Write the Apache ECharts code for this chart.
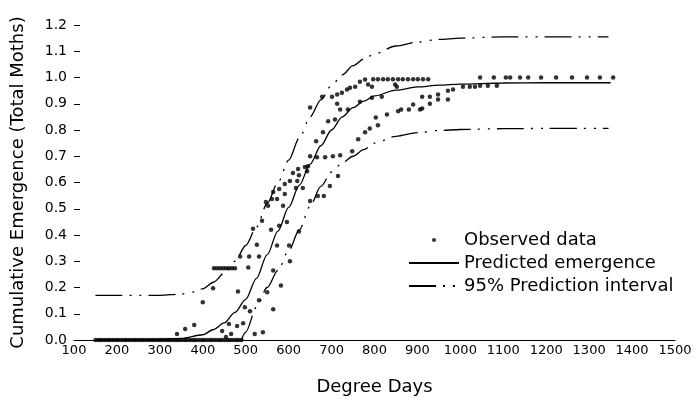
<!DOCTYPE html>
<html><head><meta charset="utf-8">
<script src="https://cdn.jsdelivr.net/npm/echarts@6/dist/echarts.min.js"></script>
<style>html,body{margin:0;padding:0;background:#fff}#c{width:696px;height:401px}</style>
</head><body><div id="c"></div>
<script>
// Observed emergence: degree days and cumulative proportion
const zeroDays = [150,157,163,170,177,183,190,197,203,210,217,223,230,237,243,250,257,263,270,277,283,290,297,303,310,317,323,330,337,343,350,357,363,370,377,383,390,397,403,410,417,423,430,437,443,450,457,463,470,477,483,490];
const observed = [
  [340,0.023],[359,0.042],[380,0.057],[400,0.144],[424,0.197],[445,0.034],[454,0.011],[461,0.061],[466,0.023],
  [480,0.053],[494,0.064],[482,0.185],[498,0.125],[510,0.11],[521,0.023],[540,0.03],[531,0.151],[550,0.182],
  [564,0.117],[582,0.208],[564,0.265],
  [426,0.273],[433,0.273],[440,0.273],[447,0.273],[454,0.273],[461,0.273],[468,0.273],[475,0.273],
  [487,0.318],[508,0.318],[531,0.318],[506,0.276],[526,0.363],[573,0.36],[601,0.36],[603,0.30],
  [517,0.424],[538,0.454],[559,0.42],[578,0.435],[596,0.45],[552,0.511],[547,0.526],[561,0.537],[573,0.537],
  [564,0.564],[578,0.575],[591,0.594],[603,0.606],[591,0.556],[587,0.511],[620,0.606],[610,0.636],[624,0.628],
  [617,0.579],[633,0.579],[638,0.659],[645,0.662],[643,0.643],[622,0.651],[650,0.70],[666,0.696],[685,0.696],
  [703,0.70],[720,0.704],[748,0.719],[624,0.413],[650,0.53],[668,0.549],[682,0.549],[696,0.587],[715,0.625],
  [664,0.757],[680,0.791],[692,0.833],[708,0.84],[650,0.886],[678,0.927],[701,0.927],[713,0.935],[724,0.942],
  [736,0.954],[743,0.961],[755,0.965],[766,0.984],[778,0.992],[785,0.973],[794,0.965],[713,0.90],[720,0.878],
  [738,0.878],[766,0.908],[794,0.923],[817,0.927],[852,0.965],[848,0.973],[762,0.765],[778,0.791],[789,0.806],
  [808,0.818],[803,0.848],[829,0.859],[855,0.871],[862,0.878],[880,0.878],[890,0.897],[906,0.878],[911,0.927],
  [929,0.927],[929,0.90],[911,0.882],[948,0.935],[948,0.916],[971,0.916],[971,0.95],[983,0.954],[1006,0.965],
  [1022,0.965],[1034,0.965],[1046,0.969],[1064,0.969],[1085,0.969],
  [797,0.993],[808,0.993],[820,0.993],[831,0.993],[843,0.993],[855,0.993],[866,0.993],[878,0.993],[890,0.993],
  [901,0.993],[913,0.993],[925,0.993],
  [1046,1.0],[1078,1.0],[1106,1.0],[1116,1.0],[1139,1.0],[1158,1.0],[1188,1.0],[1223,1.0],[1260,1.0],
  [1295,1.0],[1325,1.0],[1356,1.0]
];
// Predicted emergence curve
const predDays = [150,200,250,300,350,400,425,450,475,500,525,550,575,600,625,650,675,700,725,750,775,800,850,900,950,1000,1100,1200,1350];
const predValues = [0,0,0,0.002,0.006,0.02,0.04,0.065,0.105,0.155,0.235,0.325,0.415,0.505,0.59,0.67,0.74,0.80,0.85,0.885,0.91,0.93,0.952,0.964,0.971,0.975,0.979,0.98,0.98];
// 95% prediction interval
const upperDays = [150,200,250,300,350,375,400,425,450,475,500,525,550,575,600,625,650,675,700,725,750,775,800,850,900,950,1000,1100,1200,1345];
const upperValues = [0.17,0.17,0.17,0.17,0.175,0.182,0.195,0.22,0.255,0.30,0.36,0.43,0.52,0.60,0.685,0.77,0.85,0.915,0.97,1.01,1.045,1.07,1.09,1.12,1.135,1.145,1.15,1.155,1.155,1.155];
const lowerDays = [490,500,525,550,575,600,625,650,675,700,725,750,775,800,850,900,950,1000,1100,1200,1345];
const lowerValues = [0,0.03,0.125,0.2,0.265,0.34,0.42,0.51,0.585,0.64,0.675,0.70,0.725,0.75,0.776,0.79,0.798,0.802,0.805,0.806,0.806];

const FONT = 'DejaVu Sans';
const zip = (a, b) => a.map((x, i) => [x, b[i]]);
const obsData = zeroDays.map(d => [d, 0]).concat(observed);
const piStyle = {color:'#000', width:1.3, type:[27,7,2,8,2,7]};
const hidden = {color:'rgba(0,0,0,0)', borderWidth:0};

const chart = echarts.init(document.getElementById('c'), null, {renderer:'canvas'});
chart.setOption({
  animation:false,
  backgroundColor:'#fff',
  grid:{left:74, right:21, top:25, bottom:59, containLabel:false},
  xAxis:{
    type:'value', min:100, max:1500, interval:100,
    name:'Degree Days', nameLocation:'middle', nameGap:38,
    nameTextStyle:{fontFamily:FONT, fontSize:18, color:'#000'},
    axisLine:{show:true, onZero:false, lineStyle:{color:'#000', width:1.2}},
    axisTick:{show:false},
    axisLabel:{fontFamily:FONT, fontSize:13, color:'#000', margin:4, formatter:v => String(v)},
    splitLine:{show:false}
  },
  yAxis:{
    type:'value', min:0, max:1.2, interval:0.1,
    name:'Cumulative Emergence (Total Moths)', nameLocation:'middle', nameGap:47, nameRotate:90,
    nameTextStyle:{fontFamily:FONT, fontSize:18, color:'#000'},
    axisLine:{show:false},
    axisTick:{show:true, inside:true, length:6, lineStyle:{color:'#000', width:1}},
    axisLabel:{fontFamily:FONT, fontSize:14, color:'#000', margin:7, formatter:v => v.toFixed(1)},
    splitLine:{show:false}
  },
  legend:{
    orient:'vertical', left:403, top:226, itemWidth:50, itemHeight:4, itemGap:5,
    textStyle:{fontFamily:FONT, fontSize:18, color:'#000', lineHeight:18},
    data:[
      {name:'Observed data', icon:'circle'},
      {name:'Predicted emergence', itemStyle:hidden},
      {name:'95% Prediction interval', itemStyle:hidden}
    ]
  },
  series:[
    {name:'Predicted emergence', type:'line', data:zip(predDays, predValues), symbol:'none', smooth:0.3, smoothMonotone:'x',
     lineStyle:{color:'#000', width:1.3}, itemStyle:{color:'#000'}, z:2},
    {name:'95% Prediction interval', type:'line', data:zip(upperDays, upperValues), symbol:'none', smooth:0.3, smoothMonotone:'x',
     lineStyle:piStyle, itemStyle:{color:'#000'}, z:2},
    {name:'95% Prediction interval', type:'line', data:zip(lowerDays, lowerValues), symbol:'none', smooth:0.3, smoothMonotone:'x',
     lineStyle:piStyle, itemStyle:{color:'#000'}, z:2},
    {name:'Observed data', type:'scatter', data:obsData, symbol:'circle', symbolSize:4.5,
     itemStyle:{color:'#000'}, z:3}
  ]
});
</script></body></html>
